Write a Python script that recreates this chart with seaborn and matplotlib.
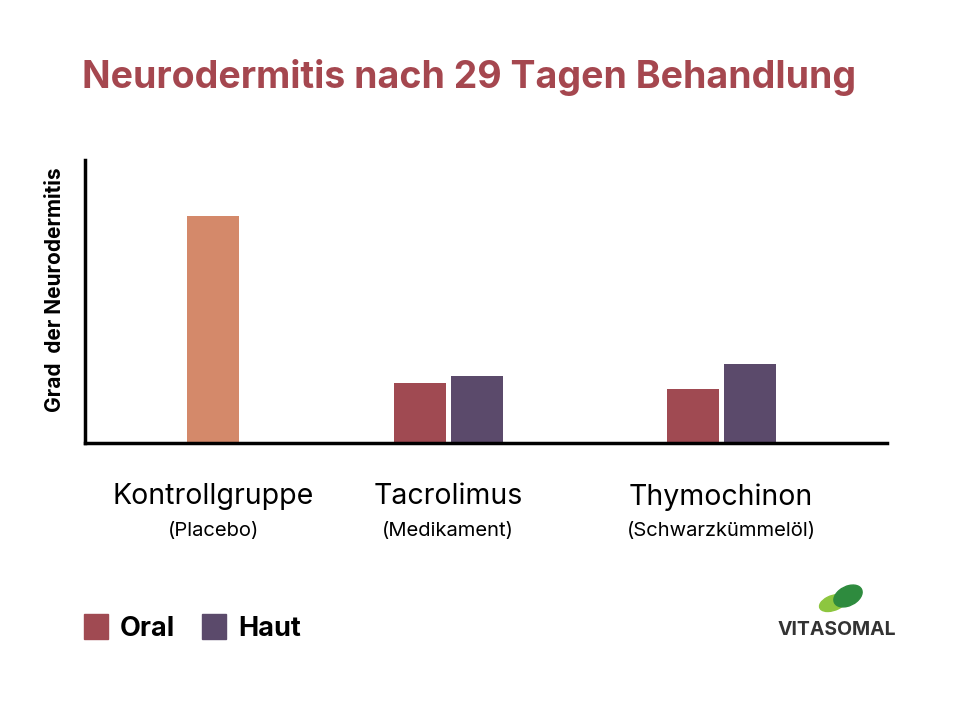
import matplotlib
matplotlib.use("Agg")
import matplotlib.pyplot as plt
import seaborn as sns
import pandas as pd
from matplotlib.patches import Rectangle, Ellipse

groups = ["Kontrollgruppe", "Tacrolimus", "Tacrolimus", "Thymochinon", "Thymochinon"]
kinds = ["Placebo", "Oral", "Haut", "Oral", "Haut"]
values = [227, 60, 67, 54, 79]
subtitles = ["(Placebo)", "(Medikament)", "(Schwarzkümmelöl)"]
group_names = ["Kontrollgruppe", "Tacrolimus", "Thymochinon"]

colors = {"Placebo": "#D4896A", "Oral": "#A04A52", "Haut": "#5B4A6B"}
centers = {"Kontrollgruppe": 128, "Tacrolimus": 363, "Thymochinon": 636}
offs = {"Placebo": 0, "Oral": -28.5, "Haut": 28.5}
df = pd.DataFrame({"group": groups, "kind": kinds, "value": values})
df["x"] = [centers[g] + offs[k] for g, k in zip(df.group, df.kind)]

fig = plt.figure(figsize=(9.74, 7.09), dpi=100)
ax = fig.add_axes([85/974, (709-443)/709, 802/974, 283/709])
sns.barplot(data=df, x="x", y="value", hue="kind", palette=colors, native_scale=True,
            dodge=False, width=52/57, legend=False, saturation=1, ax=ax)
ax.set_xlim(0, 802)
ax.set_ylim(0, 283)
for s in ["top", "right"]:
    ax.spines[s].set_visible(False)
for s in ["left", "bottom"]:
    ax.spines[s].set_linewidth(2.5)
ax.set_xticks([]); ax.set_yticks([])
ax.set_xlabel(""); ax.set_ylabel("")

font = "Inter"
fig.text(82/974, 1-77/709, "Neurodermitis nach 29 Tagen Behandlung", color="#A5474F",
         fontsize=27, fontweight="bold", family=font, va="center")
fig.text(55/974, 1-290/709, "Grad  der Neurodermitis", rotation=90, fontsize=15,
         fontweight="bold", family=font, ha="center", va="center")
for g, sub in zip(group_names, subtitles):
    xc = (85 + centers[g]) / 974
    fig.text(xc, 1-497/709, g, fontsize=20.5, family=font, ha="center", va="center")
    fig.text(xc, 1-531/709, sub, fontsize=14.5, family=font, ha="center", va="center")

for x0, lab, k in [(84, "Oral", "Oral"), (202, "Haut", "Haut")]:
    fig.patches.append(Rectangle((x0/974, 1-639/709), 24/974, 25/709, color=colors[k],
                                 transform=fig.transFigure))
    fig.text((x0+36)/974, 1-629/709, lab, fontsize=19.5, fontweight="bold", family=font, va="center")

fig.text(778/974, 1-630/709, "VITASOMAL", fontsize=14, fontweight="bold", family=font,
         color="#333333", va="center")
fig.patches.append(Ellipse((833/974, 1-603/709), 30/974, 14/709, angle=35, color="#8DC63F",
                           transform=fig.transFigure))
fig.patches.append(Ellipse((848/974, 1-596/709), 34/974, 17/709, angle=50, color="#2E8B3E",
                           transform=fig.transFigure))
fig.savefig("out.png", dpi=100, facecolor="white")
